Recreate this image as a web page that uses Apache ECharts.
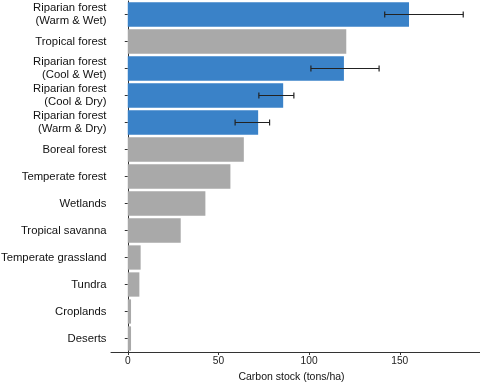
<!DOCTYPE html>
<html>
<head>
<meta charset="utf-8">
<script src="https://cdn.jsdelivr.net/npm/echarts@6/dist/echarts.min.js"></script>
<style>html,body{margin:0;padding:0;background:#fff}#c{width:480px;height:382px}</style>
</head>
<body>
<div id="c"></div>
<script>
var categories = [
  "Riparian forest\n(Warm & Wet)",
  "Tropical forest",
  "Riparian forest\n(Cool & Wet)",
  "Riparian forest\n(Cool & Dry)",
  "Riparian forest\n(Warm & Dry)",
  "Boreal forest",
  "Temperate forest",
  "Wetlands",
  "Tropical savanna",
  "Temperate grassland",
  "Tundra",
  "Croplands",
  "Deserts"
];
var values = [155.1, 120.5, 119.2, 85.7, 71.9, 64.0, 56.6, 42.8, 29.2, 7.1, 6.4, 1.8, 1.8];
var errLow  = [141.7, null, 101.0, 72.3, 59.2, null, null, null, null, null, null, null, null];
var errHigh = [185.0, null, 138.6, 91.6, 78.2, null, null, null, null, null, null, null, null];
var xTicks = [0, 50, 100, 150];

var BLUE = "#3a82c8", GREY = "#a9a9a9";

var barData = values.map(function (v, i) {
  return { value: v, itemStyle: { color: categories[i].indexOf("Riparian") === 0 ? BLUE : GREY } };
});
var errData = [];
errLow.forEach(function (lo, i) {
  if (lo != null) errData.push([i, lo, errHigh[i]]);
});

var FONT = "Liberation Sans, Arial, sans-serif";
var chart = echarts.init(document.getElementById("c"), null, { renderer: "canvas" });
chart.setOption({
  animation: false,
  backgroundColor: "#fff",
  grid: { left: 111, right: 0, top: 1, bottom: 30, containLabel: false, outerBoundsMode: "none" },
  xAxis: {
    type: "value",
    min: -9.25,
    max: 194.25,
    splitLine: { show: false },
    axisLine: { show: true, lineStyle: { color: "#333", width: 1 } },
    axisTick: { show: true, length: 3, lineStyle: { color: "#333" }, customValues: xTicks },
    axisLabel: { customValues: xTicks, color: "#222", fontSize: 10.2, fontFamily: FONT, margin: 4.5 },
    name: "Carbon stock (tons/ha)",
    nameLocation: "middle",
    nameGap: 19,
    nameTextStyle: { color: "#111", fontSize: 10.5, fontFamily: FONT, padding: [0, 8, 0, 0] }
  },
  yAxis: {
    type: "category",
    data: categories,
    inverse: true,
    axisLine: { show: true, lineStyle: { color: "#333", width: 1 } },
    axisTick: { show: true, length: 3, alignWithLabel: true, lineStyle: { color: "#333" } },
    axisLabel: { color: "#111", fontSize: 11.3, lineHeight: 12.5, fontFamily: FONT, margin: 4.5, align: "right" }
  },
  series: [
    {
      type: "bar",
      data: barData,
      barCategoryGap: "10%",
      itemStyle: { borderWidth: 0 }
    },
    {
      type: "custom",
      data: errData,
      encode: { y: 0, x: [1, 2] },
      z: 10,
      renderItem: function (params, api) {
        var idx = api.value(0);
        var lo = api.coord([api.value(1), idx]);
        var hi = api.coord([api.value(2), idx]);
        var h = 3;
        var style = { stroke: "#222", lineWidth: 1.2 };
        return {
          type: "group",
          children: [
            { type: "line", shape: { x1: lo[0], y1: lo[1], x2: hi[0], y2: hi[1] }, style: style },
            { type: "line", shape: { x1: lo[0], y1: lo[1] - h, x2: lo[0], y2: lo[1] + h }, style: style },
            { type: "line", shape: { x1: hi[0], y1: hi[1] - h, x2: hi[0], y2: hi[1] + h }, style: style }
          ]
        };
      }
    }
  ]
});
</script>
</body>
</html>
